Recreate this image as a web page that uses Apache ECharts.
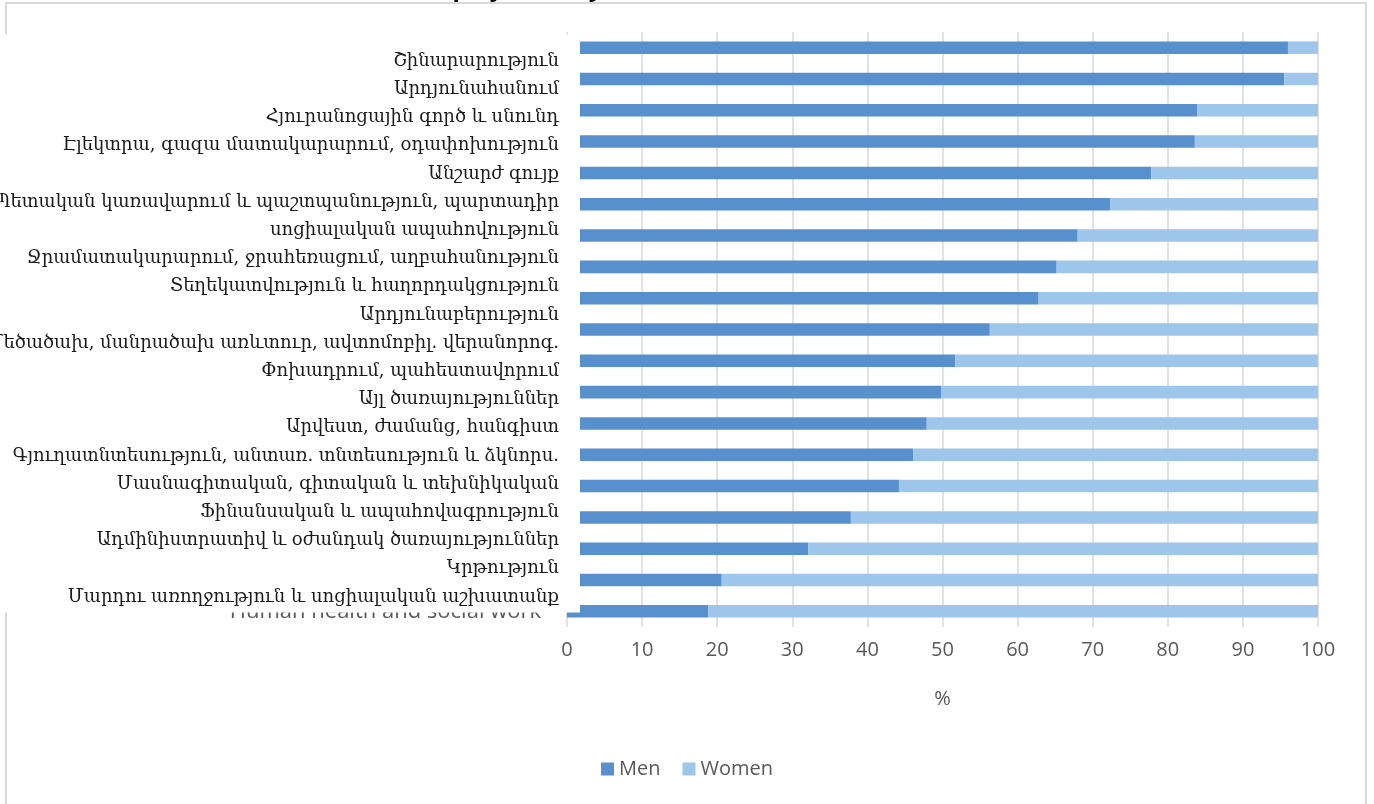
<!DOCTYPE html>
<html>
<head>
<meta charset="utf-8">
<title>Employment by sex and economic activity</title>
<script src="https://cdn.jsdelivr.net/npm/echarts@6/dist/echarts.min.js"></script>
<style>
  html, body { margin: 0; padding: 0; background: #ffffff; }
  #chart { width: 1374px; height: 804px; }
</style>
</head>
<body>
<div id="chart"></div>
<script>
// Economic activities, ordered by the men's share (highest first)
const categories = [
  'Construction',
  'Mining and quarrying',
  'Accommodation and food service activities',
  'Electricity, gas, steam and air conditioning supply',
  'Real estate activities',
  'Public administration and defence; compulsory social security',
  'Water supply; sewerage, waste management and remediation',
  'Information and communication',
  'Manufacturing',
  'Wholesale and retail trade; repair of motor vehicles',
  'Transportation and storage',
  'Other service activities',
  'Arts, entertainment and recreation',
  'Agriculture, forestry and fishing',
  'Professional, scientific and technical activities',
  'Financial and insurance activities',
  'Administrative and support service activities',
  'Education',
  'Human health and social work'
];

// Armenian names of the same activities (the long one wraps onto two lines)
const labelsHy = [
  'Շինարարություն',
  'Արդյունահանում',
  'Հյուրանոցային գործ և սնունդ',
  'Էլեկտրա, գազա մատակարարում, օդափոխություն',
  'Անշարժ գույք',
  'Պետական կառավարում և պաշտպանություն, պարտադիր\nսոցիալական ապահովություն',
  'Ջրամատակարարում, ջրահեռացում, աղբահանություն',
  'Տեղեկատվություն և հաղորդակցություն',
  'Արդյունաբերություն',
  'Մեծածախ, մանրածախ առևտուր, ավտոմոբիլ. վերանորոգ.',
  'Փոխադրում, պահեստավորում',
  'Այլ ծառայություններ',
  'Արվեստ, ժամանց, հանգիստ',
  'Գյուղատնտեսություն, անտառ. տնտեսություն և ձկնորս.',
  'Մասնագիտական, գիտական և տեխնիկական',
  'Ֆինանսական և ապահովագրություն',
  'Ադմինիստրատիվ և օժանդակ ծառայություններ',
  'Կրթություն',
  'Մարդու առողջություն և սոցիալական աշխատանք'
];

// Shares of employed, %
const men   = [96.0, 95.5, 83.9, 83.6, 77.8, 72.3, 68.0, 65.2, 62.8, 56.3, 51.7, 49.8, 47.9, 46.1, 44.2, 37.8, 32.1, 20.6, 18.8];
const women = [ 4.0,  4.5, 16.1, 16.4, 22.2, 27.7, 32.0, 34.8, 37.2, 43.7, 48.3, 50.2, 52.1, 53.9, 55.8, 62.2, 67.9, 79.4, 81.2];

const seriesNames = ['Men', 'Women'];
const axisName = '%';
const titleText = 'Employment by sex';

const chart = echarts.init(document.getElementById('chart'), null, { renderer: 'canvas' });

const grey = '#595959';
const gridGrey = '#d9d9d9';

chart.setOption({
  backgroundColor: '#ffffff',
  animation: false,
  grid: { left: 567, right: 56, top: 32, bottom: 177, containLabel: false, outerBoundsMode: 'none' },
  legend: {
    data: seriesNames,
    left: 'center',
    top: 754,
    icon: 'rect',
    itemWidth: 13,
    itemHeight: 13,
    itemGap: 22,
    textStyle: { fontFamily: 'Open Sans', fontSize: 20, color: grey }
  },
  xAxis: {
    type: 'value',
    min: 0,
    max: 100,
    interval: 10,
    name: axisName,
    nameLocation: 'middle',
    nameGap: 62,
    nameTextStyle: { fontFamily: 'Open Sans', fontSize: 20, color: grey },
    axisLine: { show: false },
    axisTick: { show: false },
    axisLabel: { fontFamily: 'Open Sans', fontSize: 20, color: grey, margin: 13 },
    splitLine: { show: true, lineStyle: { color: gridGrey, width: 1.5 } }
  },
  yAxis: {
    type: 'category',
    inverse: true,
    data: categories,
    axisLine: { show: false },
    axisTick: { show: false },
    axisLabel: { interval: 0, fontFamily: 'Open Sans', fontSize: 22, color: grey, margin: 26 }
  },
  series: [
    {
      name: seriesNames[0],
      type: 'bar',
      stack: 'total',
      barWidth: '40%',
      itemStyle: { color: '#5890cd' },
      data: men
    },
    {
      name: seriesNames[1],
      type: 'bar',
      stack: 'total',
      barWidth: '40%',
      itemStyle: { color: '#9dc6ea' },
      data: women
    }
  ],
  graphic: [
    // chart frame
    {
      type: 'rect',
      z: 1,
      silent: true,
      shape: { x: 6, y: 3, width: 1360, height: 820 },
      style: { fill: 'none', stroke: gridGrey, lineWidth: 2 }
    },
    // title, running off the top edge
    {
      type: 'text',
      z: 2,
      silent: true,
      x: 532,
      y: -23,
      style: {
        text: titleText,
        align: 'center',
        verticalAlign: 'top',
        font: 'bold 24px "Open Sans"',
        fill: '#000000'
      }
    },
    // white panel carrying the Armenian labels
    {
      type: 'rect',
      z: 100,
      silent: true,
      shape: { x: 0, y: 34.5, width: 580, height: 578 },
      style: { fill: '#ffffff', stroke: 'none' }
    },
    {
      type: 'text',
      z: 101,
      silent: true,
      x: 559,
      y: 47,
      style: {
        text: labelsHy.join('\n'),
        align: 'right',
        verticalAlign: 'top',
        lineHeight: 28.2,
        font: '18px "DejaVu Serif", serif',
        fill: '#1a1a1a'
      }
    }
  ]
});
</script>
</body>
</html>
